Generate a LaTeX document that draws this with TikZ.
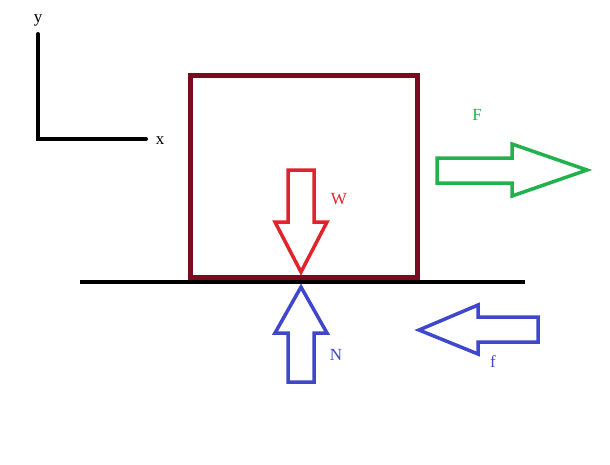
\documentclass[tikz,border=0pt]{standalone}
\usepackage{fontspec}
\setmainfont{Liberation Serif}
\definecolor{boxred}{HTML}{7A0A1E}
\definecolor{wred}{HTML}{E0242C}
\definecolor{nblue}{HTML}{3F48CC}
\definecolor{fgreen}{HTML}{22B14C}
\begin{document}
\begin{tikzpicture}[x=1pt,y=-1pt,
  axis/.style={line width=4pt,line cap=round},
  fat/.style={line width=3.5pt,line join=miter},
  lbl/.style={font=\fontsize{17}{19}\selectfont,inner sep=0pt}]
\useasboundingbox[fill=white] (0,0) rectangle (610,464);
% axes
\coordinate (O) at (38,139);
\coordinate (Y) at (38,34);
\coordinate (X) at (146,139);
\draw[axis] (Y) -- (O) -- (X);
\node[lbl] (ylab) at (38,20) {y};
\node[lbl] (xlab) at (160,141) {x};
% ground
\coordinate (G1) at (80,282);
\coordinate (G2) at (525,282);
\draw[line width=4pt] (G1) -- (G2);
% box
\draw[boxred,line width=5pt] (190,75) rectangle (417,277);
% W arrow
\draw[wred,fat] (288,170) -- (314,170) -- (314,222) -- (327,222) -- (301,272) -- (275,222) -- (288,222) -- cycle;
\node[lbl,text=wred] (W) at (339,199) {W};
% N arrow
\draw[nblue,fat] (301,287) -- (327,333) -- (314,333) -- (314,382) -- (288,382) -- (288,333) -- (275,333) -- cycle;
\node[lbl,text=nblue] (N) at (336,355) {N};
% F arrow
\draw[fgreen,fat] (437,158) -- (512,158) -- (512,144) -- (587,170) -- (512,196) -- (512,183) -- (437,183) -- cycle;
\node[lbl,text=fgreen] (F) at (477,115) {F};
% f arrow
\draw[nblue,fat] (419,330) -- (478,305) -- (478,317) -- (538,317) -- (538,342) -- (478,342) -- (478,354) -- cycle;
\node[lbl,text=nblue] (f) at (493,362) {f};
\end{tikzpicture}
\end{document}
